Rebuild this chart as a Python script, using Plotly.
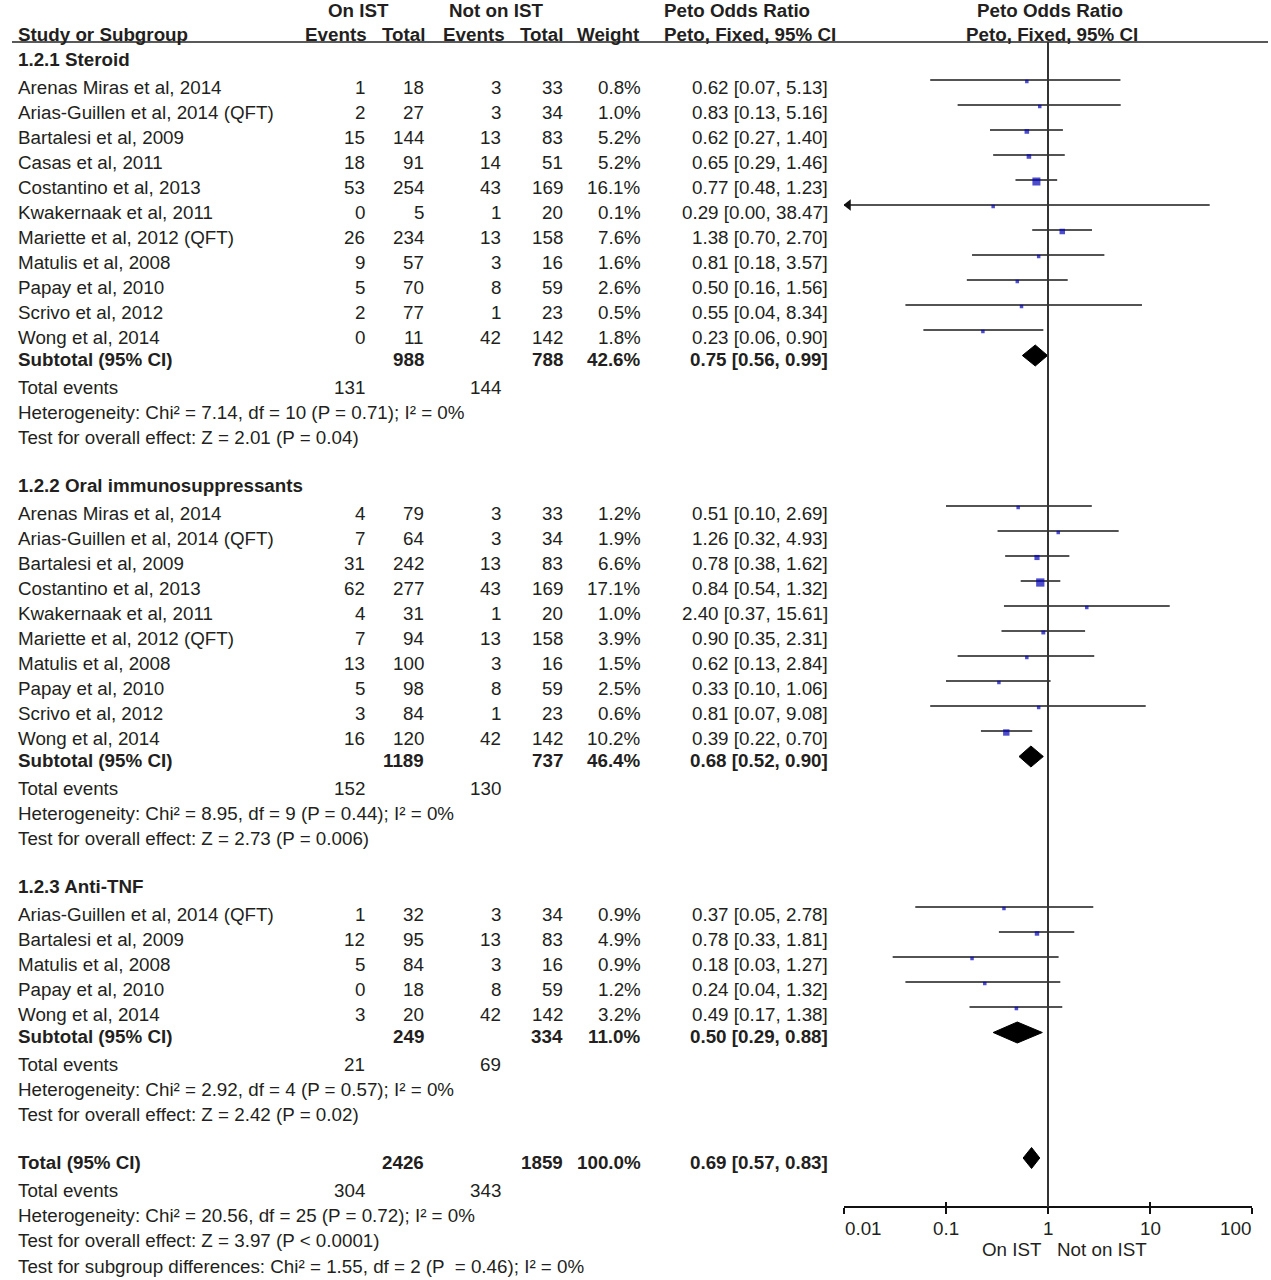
import math
import plotly.graph_objects as go

# ---------------- data ----------------
steroid_names = ["Arenas Miras et al, 2014", "Arias-Guillen et al, 2014 (QFT)", "Bartalesi et al, 2009",
                 "Casas et al, 2011", "Costantino et al, 2013", "Kwakernaak et al, 2011",
                 "Mariette et al, 2012 (QFT)", "Matulis et al, 2008", "Papay et al, 2010",
                 "Scrivo et al, 2012", "Wong et al, 2014"]
steroid_ev_ist = [1, 2, 15, 18, 53, 0, 26, 9, 5, 2, 0]
steroid_tot_ist = [18, 27, 144, 91, 254, 5, 234, 57, 70, 77, 11]
steroid_ev_not = [3, 3, 13, 14, 43, 1, 13, 3, 8, 1, 42]
steroid_tot_not = [33, 34, 83, 51, 169, 20, 158, 16, 59, 23, 142]
steroid_weight = [0.8, 1.0, 5.2, 5.2, 16.1, 0.1, 7.6, 1.6, 2.6, 0.5, 1.8]
steroid_or = [0.62, 0.83, 0.62, 0.65, 0.77, 0.29, 1.38, 0.81, 0.50, 0.55, 0.23]
steroid_lo = [0.07, 0.13, 0.27, 0.29, 0.48, 0.00, 0.70, 0.18, 0.16, 0.04, 0.06]
steroid_hi = [5.13, 5.16, 1.40, 1.46, 1.23, 38.47, 2.70, 3.57, 1.56, 8.34, 0.90]
steroid_sub = dict(tot_ist=988, tot_not=788, weight=42.6, or_=0.75, lo=0.56, hi=0.99,
                   ev_ist=131, ev_not=144,
                   het="Heterogeneity: Chi² = 7.14, df = 10 (P = 0.71); I² = 0%",
                   test="Test for overall effect: Z = 2.01 (P = 0.04)")

oral_names = ["Arenas Miras et al, 2014", "Arias-Guillen et al, 2014 (QFT)", "Bartalesi et al, 2009",
              "Costantino et al, 2013", "Kwakernaak et al, 2011", "Mariette et al, 2012 (QFT)",
              "Matulis et al, 2008", "Papay et al, 2010", "Scrivo et al, 2012", "Wong et al, 2014"]
oral_ev_ist = [4, 7, 31, 62, 4, 7, 13, 5, 3, 16]
oral_tot_ist = [79, 64, 242, 277, 31, 94, 100, 98, 84, 120]
oral_ev_not = [3, 3, 13, 43, 1, 13, 3, 8, 1, 42]
oral_tot_not = [33, 34, 83, 169, 20, 158, 16, 59, 23, 142]
oral_weight = [1.2, 1.9, 6.6, 17.1, 1.0, 3.9, 1.5, 2.5, 0.6, 10.2]
oral_or = [0.51, 1.26, 0.78, 0.84, 2.40, 0.90, 0.62, 0.33, 0.81, 0.39]
oral_lo = [0.10, 0.32, 0.38, 0.54, 0.37, 0.35, 0.13, 0.10, 0.07, 0.22]
oral_hi = [2.69, 4.93, 1.62, 1.32, 15.61, 2.31, 2.84, 1.06, 9.08, 0.70]
oral_sub = dict(tot_ist=1189, tot_not=737, weight=46.4, or_=0.68, lo=0.52, hi=0.90,
                ev_ist=152, ev_not=130,
                het="Heterogeneity: Chi² = 8.95, df = 9 (P = 0.44); I² = 0%",
                test="Test for overall effect: Z = 2.73 (P = 0.006)")

tnf_names = ["Arias-Guillen et al, 2014 (QFT)", "Bartalesi et al, 2009", "Matulis et al, 2008",
             "Papay et al, 2010", "Wong et al, 2014"]
tnf_ev_ist = [1, 12, 5, 0, 3]
tnf_tot_ist = [32, 95, 84, 18, 20]
tnf_ev_not = [3, 13, 3, 8, 42]
tnf_tot_not = [34, 83, 16, 59, 142]
tnf_weight = [0.9, 4.9, 0.9, 1.2, 3.2]
tnf_or = [0.37, 0.78, 0.18, 0.24, 0.49]
tnf_lo = [0.05, 0.33, 0.03, 0.04, 0.17]
tnf_hi = [2.78, 1.81, 1.27, 1.32, 1.38]
tnf_sub = dict(tot_ist=249, tot_not=334, weight=11.0, or_=0.50, lo=0.29, hi=0.88,
               ev_ist=21, ev_not=69,
               het="Heterogeneity: Chi² = 2.92, df = 4 (P = 0.57); I² = 0%",
               test="Test for overall effect: Z = 2.42 (P = 0.02)")

overall = dict(tot_ist=2426, tot_not=1859, weight=100.0, or_=0.69, lo=0.57, hi=0.83,
               ev_ist=304, ev_not=343,
               het="Heterogeneity: Chi² = 20.56, df = 25 (P = 0.72); I² = 0%",
               test="Test for overall effect: Z = 3.97 (P < 0.0001)",
               subgroup="Test for subgroup differences: Chi² = 1.55, df = 2 (P  = 0.46); I² = 0%")

group_titles = ["1.2.1 Steroid", "1.2.2 Oral immunosuppressants", "1.2.3 Anti-TNF"]
tick_vals = [0.01, 0.1, 1, 10, 100]
tick_text = ["0.01", "0.1", "1", "10", "100"]

groups = [
    dict(title=group_titles[0], names=steroid_names, ev1=steroid_ev_ist, t1=steroid_tot_ist,
         ev2=steroid_ev_not, t2=steroid_tot_not, w=steroid_weight, orv=steroid_or,
         lo=steroid_lo, hi=steroid_hi, sub=steroid_sub),
    dict(title=group_titles[1], names=oral_names, ev1=oral_ev_ist, t1=oral_tot_ist,
         ev2=oral_ev_not, t2=oral_tot_not, w=oral_weight, orv=oral_or,
         lo=oral_lo, hi=oral_hi, sub=oral_sub),
    dict(title=group_titles[2], names=tnf_names, ev1=tnf_ev_ist, t1=tnf_tot_ist,
         ev2=tnf_ev_not, t2=tnf_tot_not, w=tnf_weight, orv=tnf_or,
         lo=tnf_lo, hi=tnf_hi, sub=tnf_sub),
]

# ---------------- layout constants ----------------
W, H = 1271, 1280
FONT = "Liberation Sans, Arial, sans-serif"
TXT = "#231f20"
FS = 18.8
BLUE = "#0000b8"
PAD = 2   # annotation inner padding compensation
COL = dict(name=18, ev1=365, tot1=424, ev2=501, tot2=563, wt=641, ci=828)
X_MIN, X_MAX = 0.01, 100
AX_LEFT, AX_RIGHT = 844, 1252
AXIS_Y = 1207
TICKLABEL_Y = 1228
RULE_Y = 42
LINE_DY = -7.5
SQ_DY = 1.5
DIA_DY = -4
DIA_H = 10.5

ann = []


def add(x, y, text, anchor="right", bold=False, xref="x"):
    shift = {"right": PAD, "left": -PAD}.get(anchor, 0)
    ann.append(dict(x=x, y=y, xref=xref, yref="y", xshift=shift,
                    text=f"<b>{text}</b>" if bold else text,
                    xanchor=anchor, yanchor="middle", showarrow=False,
                    font=dict(family=FONT, size=FS, color=TXT)))


def fmt_ci(o, l, h):
    return f"{o:.2f} [{l:.2f}, {h:.2f}]"


# headers
add(358, 10, "On IST", "center", True)
add(496, 10, "Not on IST", "center", True)
add(664, 10, "Peto Odds Ratio", "left", True)
add(1050, 10, "Peto Odds Ratio", "center", True)
add(COL["name"], 34, "Study or Subgroup", "left", True)
add(367, 34, "Events", "right", True)
add(425, 34, "Total", "right", True)
add(505, 34, "Events", "right", True)
add(563, 34, "Total", "right", True)
add(640, 34, "Weight", "right", True)
add(664, 34, "Peto, Fixed, 95% CI", "left", True)
add(1052, 34, "Peto, Fixed, 95% CI", "center", True)

# forest collections
ci_x, ci_y = [], []
sq_x, sq_y, sq_s = [], [], []
arrow_x, arrow_y = [], []
diamonds = []

y = 59
for gi, g in enumerate(groups):
    add(COL["name"], y, g["title"], "left", True)
    y += 28.5
    n = len(g["names"])
    for i in range(n):
        if i > 0:
            y += 25
        add(COL["name"], y, g["names"][i], "left")
        add(COL["ev1"], y, str(g["ev1"][i]))
        add(COL["tot1"], y, str(g["t1"][i]))
        add(COL["ev2"], y, str(g["ev2"][i]))
        add(COL["tot2"], y, str(g["t2"][i]))
        add(COL["wt"], y, f"{g['w'][i]:.1f}%")
        add(COL["ci"], y, fmt_ci(g["orv"][i], g["lo"][i], g["hi"][i]))
        ym = y + LINE_DY
        lo = g["lo"][i]
        if lo < X_MIN:
            lo = X_MIN
            arrow_x.append(X_MIN * 1.1)
            arrow_y.append(ym)
        ci_x += [lo, g["hi"][i], None]
        ci_y += [ym, ym, None]
        sq_x.append(g["orv"][i])
        sq_y.append(ym + SQ_DY)
        sq_s.append(max(3.5, 2 * math.sqrt(g["w"][i])))
    s = g["sub"]
    y += 22
    add(COL["name"], y, "Subtotal (95% CI)", "left", True)
    add(COL["tot1"], y, str(s["tot_ist"]), bold=True)
    add(COL["tot2"], y, str(s["tot_not"]), bold=True)
    add(COL["wt"], y, f"{s['weight']:.1f}%", bold=True)
    add(COL["ci"], y, fmt_ci(s["or_"], s["lo"], s["hi"]), bold=True)
    diamonds.append((s["lo"], s["or_"], s["hi"], y + DIA_DY))
    y += 28
    add(COL["name"], y, "Total events", "left")
    add(COL["ev1"], y, str(s["ev_ist"]))
    add(COL["ev2"], y, str(s["ev_not"]))
    y += 25
    add(COL["name"], y, s["het"], "left")
    y += 25
    add(COL["name"], y, s["test"], "left")
    y += 47.5

# overall
add(COL["name"], y, "Total (95% CI)", "left", True)
add(COL["tot1"], y, str(overall["tot_ist"]), bold=True)
add(COL["tot2"], y, str(overall["tot_not"]), bold=True)
add(COL["wt"], y, f"{overall['weight']:.1f}%", bold=True)
add(COL["ci"], y, fmt_ci(overall["or_"], overall["lo"], overall["hi"]), bold=True)
diamonds.append((overall["lo"], overall["or_"], overall["hi"], y + DIA_DY))
y += 28
add(COL["name"], y, "Total events", "left")
add(COL["ev1"], y, str(overall["ev_ist"]))
add(COL["ev2"], y, str(overall["ev_not"]))
y += 25
add(COL["name"], y, overall["het"], "left")
y += 25
add(COL["name"], y, overall["test"], "left")
y += 26.5
add(COL["name"], y, overall["subgroup"], "left")

# tick labels of the log axis (end labels kept inside the axis span)
for i, (tv, tt) in enumerate(zip(tick_vals, tick_text)):
    anchor = "left" if i == 0 else ("right" if i == len(tick_vals) - 1 else "center")
    ann.append(dict(x=math.log10(tv), y=TICKLABEL_Y, xref="x2", yref="y", text=tt,
                    xanchor=anchor, yanchor="middle", showarrow=False,
                    xshift={"left": -1, "right": 1}.get(anchor, 0),
                    font=dict(family=FONT, size=FS, color=TXT)))

# axis direction labels
ann.append(dict(x=0, y=1249, xref="x2", yref="y", text="On IST", xanchor="right", yanchor="middle",
                xshift=-4, showarrow=False, font=dict(family=FONT, size=FS, color=TXT)))
ann.append(dict(x=0, y=1249, xref="x2", yref="y", text="Not on IST", xanchor="left", yanchor="middle",
                xshift=7, showarrow=False, font=dict(family=FONT, size=FS, color=TXT)))

fig = go.Figure()

fig.add_trace(go.Scatter(x=ci_x, y=ci_y, mode="lines", xaxis="x2", yaxis="y",
                         line=dict(color="#1a1a1a", width=1.5), hoverinfo="skip", showlegend=False))
fig.add_trace(go.Scatter(x=arrow_x, y=arrow_y, mode="markers", xaxis="x2", yaxis="y",
                         marker=dict(symbol="triangle-left", size=10, color="#111111"),
                         hoverinfo="skip", showlegend=False))
fig.add_trace(go.Scatter(x=sq_x, y=sq_y, mode="markers", xaxis="x2", yaxis="y",
                         marker=dict(symbol="square", size=sq_s, color=BLUE, line=dict(width=0)),
                         hoverinfo="skip", showlegend=False))
for lo, est, hi, yc in diamonds:
    fig.add_trace(go.Scatter(x=[lo, est, hi, est, lo], y=[yc, yc - DIA_H, yc, yc + DIA_H, yc],
                             mode="lines", fill="toself", fillcolor="#000000",
                             line=dict(color="#000000", width=1), xaxis="x2", yaxis="y",
                             hoverinfo="skip", showlegend=False))
# invisible trace for overlay tick axis
fig.add_trace(go.Scatter(x=[1], y=[AXIS_Y], mode="markers", xaxis="x3", yaxis="y",
                         marker=dict(opacity=0), hoverinfo="skip", showlegend=False))

dom = [AX_LEFT / W, AX_RIGHT / W]
axis_pos = (H - AXIS_Y) / H
log_range = [math.log10(X_MIN), math.log10(X_MAX)]

fig.update_layout(
    width=W, height=H, margin=dict(l=0, r=0, t=0, b=0, pad=0, autoexpand=False),
    paper_bgcolor="white", plot_bgcolor="white",
    showlegend=False,
    xaxis=dict(range=[0, W], domain=[0, 1], visible=False, fixedrange=True),
    yaxis=dict(range=[H, 0], domain=[0, 1], visible=False, fixedrange=True),
    xaxis2=dict(type="log", range=log_range, domain=dom, anchor="free", position=axis_pos,
                showline=True, linecolor="#111111", linewidth=1.6, showgrid=False, zeroline=False,
                ticks="outside", ticklen=6, tickwidth=1.6, tickcolor="#111111",
                tickvals=tick_vals, showticklabels=False, automargin=False, fixedrange=True),
    xaxis3=dict(type="log", range=log_range, domain=dom, anchor="free", position=axis_pos,
                overlaying="x2", showline=False, showgrid=False, zeroline=False,
                ticks="inside", ticklen=5, tickwidth=1.6, tickcolor="#111111",
                tickvals=tick_vals, showticklabels=False, automargin=False, fixedrange=True),
    annotations=ann,
    shapes=[
        dict(type="line", xref="x", yref="y", x0=12, x1=1268, y0=RULE_Y, y1=RULE_Y,
             line=dict(color="#222222", width=1.6)),
        dict(type="line", xref="x2", yref="y", x0=1, x1=1, y0=RULE_Y, y1=AXIS_Y,
             line=dict(color="#333333", width=2)),
    ],
)

fig.write_html("out.html", config={"displayModeBar": False},
               post_script="document.body.style.margin='0px';")
